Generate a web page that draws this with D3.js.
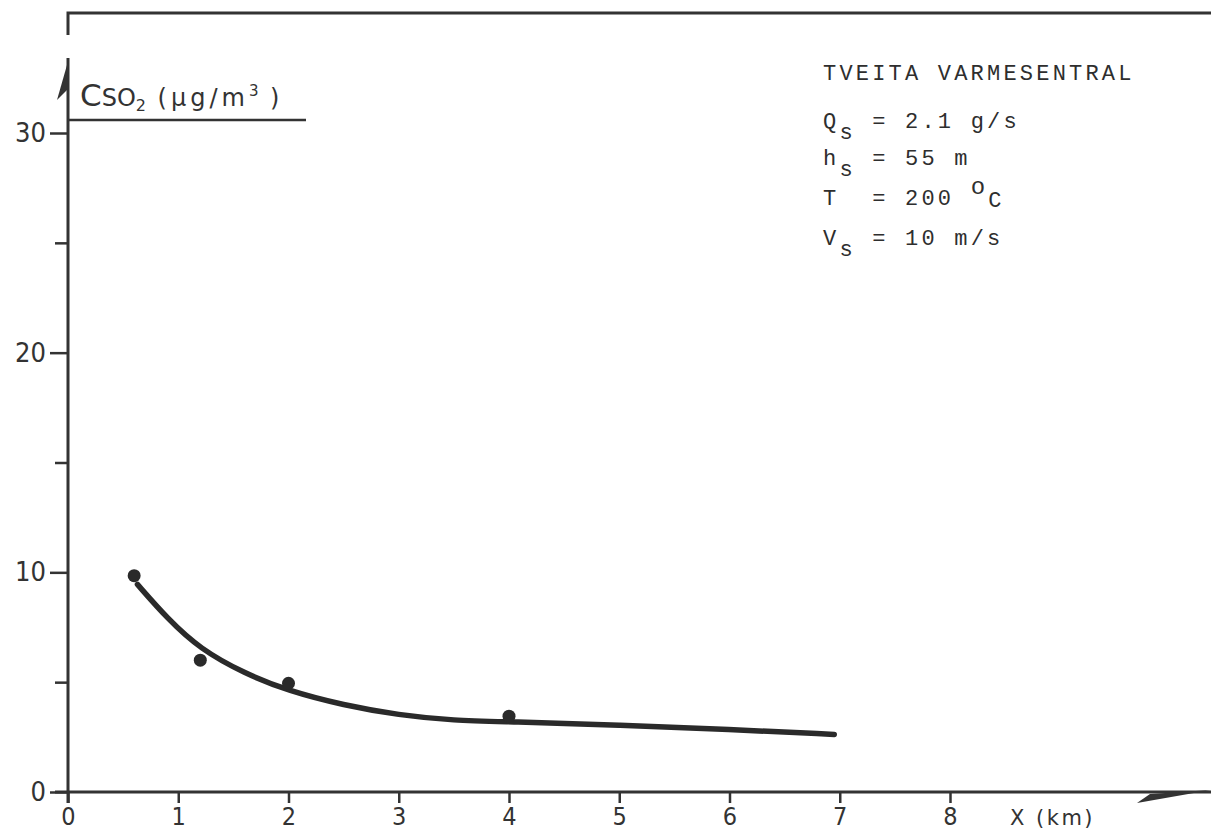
<!DOCTYPE html>
<html><head><meta charset="utf-8">
<script src="https://cdn.jsdelivr.net/npm/d3@7"></script>
<style>body{margin:0;background:#fff}svg{display:block}</style>
</head><body><svg id="c" width="1211" height="833"></svg>
<script>
// ---- data ----
const xTicks = [0,1,2,3,4,5,6,7,8];
const yMajorTicks = [0,10,20,30];
const yMinorTicks = [5,15,25];
const pointX = [0.6, 1.2, 2.0, 4.0];
const pointY = [9.85, 6.0, 4.95, 3.45];
const curveX = [0.63, 0.9, 1.2, 1.6, 2.0, 2.5, 3.0, 3.5, 4.0, 5.0, 6.0, 6.95];
const curveY = [9.45, 7.9, 6.5, 5.4, 4.6, 3.95, 3.5, 3.25, 3.2, 3.05, 2.85, 2.62];
const title = "TVEITA VARMESENTRAL";
const params = [
  {main:"Q", sub:"s", rest:" = 2.1 g/s"},
  {main:"h", sub:"s", rest:" = 55 m"},
  {main:"T", sub:" ", rest:" = 200 ", sup:"o", tail:"C"},
  {main:"V", sub:"s", rest:" = 10 m/s"}
];
const xLabel = "X (km)";

// ---- drawing ----
const ink = "#333";
const tickFont = "'Liberation Sans Narrow', 'DejaVu Sans Condensed', 'Roboto Condensed', 'DejaVu Sans', sans-serif";
const svg = d3.select("#c");
const x = d3.scaleLinear().domain([0,8]).range([68,950]);
const y = d3.scaleLinear().domain([0,30]).range([792,133]);

// top frame line
svg.append("path").attr("d","M68,35 V13 H1211").attr("fill","none")
  .attr("stroke",ink).attr("stroke-width",3);

// x axis
const gx = svg.append("g").attr("transform",`translate(0,${y(0)})`)
  .call(d3.axisBottom(x).tickValues(xTicks).tickSize(11).tickSizeOuter(0).tickFormat(d3.format("d")));
gx.select(".domain").remove();
gx.selectAll(".tick line").attr("stroke",ink).attr("stroke-width",2.5);
gx.selectAll(".tick text").attr("fill",ink).attr("font-family",tickFont).attr("font-stretch","condensed")
  .attr("font-size",25).attr("dy",null).attr("y",33);
svg.append("line").attr("x1",55).attr("x2",1211).attr("y1",y(0)).attr("y2",y(0))
  .attr("stroke",ink).attr("stroke-width",3);
// arrow barb x
svg.append("path").attr("d",`M1211,${y(0)-2} L1137,${y(0)+11} L1150,${y(0)+2} Z`).attr("fill",ink);
svg.append("text").attr("x",1010).attr("y",825).attr("fill",ink)
  .attr("font-family","DejaVu Sans, sans-serif").attr("font-size",21).attr("letter-spacing",2.5).text(xLabel);

// y axis
const gy = svg.append("g").attr("transform",`translate(${x(0)},0)`)
  .call(d3.axisLeft(y).tickValues(yMajorTicks).tickSize(18).tickSizeOuter(0).tickFormat(d3.format("d")));
gy.select(".domain").remove();
gy.selectAll(".tick line").attr("stroke",ink).attr("stroke-width",2.5);
gy.selectAll(".tick text").attr("fill",ink).attr("font-family",tickFont).attr("font-stretch","condensed")
  .attr("font-size",27).attr("x",-22);
const gym = svg.append("g").attr("transform",`translate(${x(0)},0)`)
  .call(d3.axisLeft(y).tickValues(yMinorTicks).tickSize(13).tickFormat(""));
gym.select(".domain").remove();
gym.selectAll(".tick line").attr("stroke",ink).attr("stroke-width",2.5);
svg.append("line").attr("x1",x(0)).attr("x2",x(0)).attr("y1",58).attr("y2",803)
  .attr("stroke",ink).attr("stroke-width",3);
// arrow barb y
svg.append("path").attr("d",`M${x(0)+1},58 L57,100 L${x(0)-1},90 Z`).attr("fill",ink);

// y label
const yl = svg.append("text").attr("x",80).attr("y",106).attr("fill",ink)
  .attr("font-family","DejaVu Sans, sans-serif");
yl.append("tspan").attr("font-size",31).text("C");
yl.append("tspan").attr("font-size",24).text("SO");
yl.append("tspan").attr("font-size",16).attr("dy",5).text("2");
yl.append("tspan").attr("font-size",24).attr("dy",-5).attr("letter-spacing",4).text(" (µg/m");
yl.append("tspan").attr("font-size",15).attr("dy",-10).text("3");
yl.append("tspan").attr("font-size",24).attr("dy",10).attr("letter-spacing",4).text(" )");
svg.append("line").attr("x1",x(0)).attr("x2",306).attr("y1",120).attr("y2",120)
  .attr("stroke",ink).attr("stroke-width",2.5);

// annotation
const mono = "Liberation Mono, DejaVu Sans Mono, monospace";
svg.append("text").attr("x",823).attr("y",80).attr("fill","#2e2e2e").attr("font-family",mono)
  .attr("font-size",22).attr("letter-spacing",3.2).text(title);
const baselines = [128, 165, 205, 245];
params.forEach((p,i)=>{
  const t = svg.append("text").attr("x",823).attr("y",baselines[i]).attr("fill","#2e2e2e")
    .attr("font-family",mono).attr("font-size",22).attr("letter-spacing",3.2).attr("xml:space","preserve");
  t.append("tspan").text(p.main);
  t.append("tspan").attr("dy",11).text(p.sub);
  t.append("tspan").attr("dy",-11).text(p.rest);
  if (p.sup) {
    t.append("tspan").attr("dy",-11).attr("font-size",24).text(p.sup);
    t.append("tspan").attr("dy",13).text(p.tail);
  }
});

// curve
const curveData = curveX.map((v,i)=>[v,curveY[i]]);
svg.append("path").datum(curveData)
  .attr("d", d3.line().x(d=>x(d[0])).y(d=>y(d[1])).curve(d3.curveBasis))
  .attr("fill","none").attr("stroke","#2a2a2a").attr("stroke-width",5.5).attr("stroke-linecap","round");

// points
svg.selectAll("circle.pt").data(pointX.map((v,i)=>[v,pointY[i]])).enter().append("circle")
  .attr("cx",d=>x(d[0])).attr("cy",d=>y(d[1])).attr("r",6.5).attr("fill","#2a2a2a");
</script></body></html>
